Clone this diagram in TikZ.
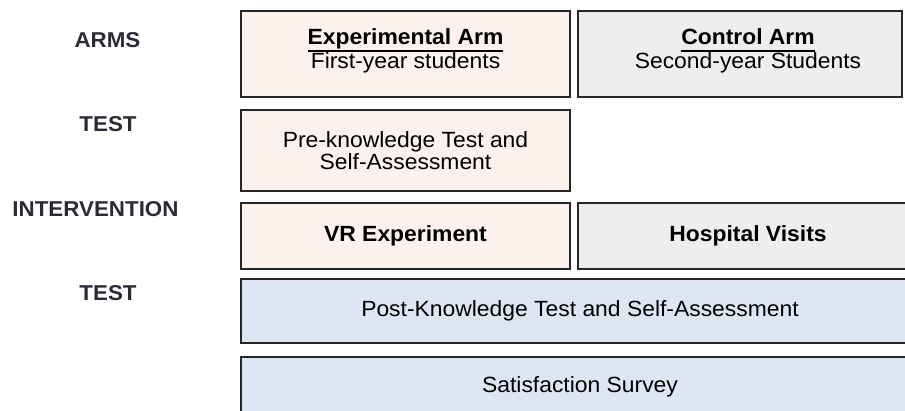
\documentclass[tikz,border=0pt]{standalone}
\usepackage{fontspec}
\setmainfont{Liberation Sans}[FakeStretch=1.04]
\usetikzlibrary{calc}

\definecolor{exparm}{HTML}{FCF1EC}
\definecolor{ctrlarm}{HTML}{EEEEEE}
\definecolor{common}{HTML}{DCE7F3}
\definecolor{rowlabel}{HTML}{2B2B36}
\definecolor{frame}{HTML}{262626}

% heavy underline drawn as a rule below the baseline
\newsavebox{\ulinebox}
\newcommand{\armtitle}[1]{%
  \sbox{\ulinebox}{\bfseries #1}%
  \leavevmode\rlap{\rule[-7.5pt]{\wd\ulinebox}{1.8pt}}\usebox{\ulinebox}}

\tikzset{
  every node/.style={font=\fontsize{22}{22.5}\selectfont},
  box/.style={draw=frame, line width=1.3pt, inner sep=0pt, align=center, text=black},
  rowname/.style={text=rowlabel, font=\fontsize{21.5}{22.5}\selectfont\bfseries},
}

\begin{document}
\begin{tikzpicture}[x=1pt, y=-1pt]
  \useasboundingbox (0,0) rectangle (905,411);

  % row names
  \node[rowname] (lArms)  at (107.5,40.5)  {ARMS};
  \node[rowname] (lTest1) at (108,124.5)   {TEST};
  \node[rowname] (lInt)   at (95.5,209.5)  {INTERVENTION};
  \node[rowname] (lTest2) at (108,293.5)   {TEST};

  % arms
  \node[box, fill=exparm, minimum width=329pt, minimum height=86pt] (exp) at (405.5,54) {};
  \node[align=center] (expText) at ($(exp.center)+(0,-3)$)
    {\armtitle{Experimental Arm}\\First-year students};
  \node[box, fill=ctrlarm, minimum width=324pt, minimum height=86pt] (ctrl) at (740,54) {};
  \node[align=center] (ctrlText) at ($(ctrl.center)+(8,-3)$)
    {\armtitle{Control Arm}\\Second-year Students};

  % pre-test
  \node[box, fill=exparm, minimum width=329pt, minimum height=81pt] (pre) at (405.5,150.5)
    {Pre-knowledge Test and\\Self-Assessment};

  % intervention
  \node[box, fill=exparm, minimum width=329pt, minimum height=66pt, font=\fontsize{22}{22.5}\selectfont\bfseries] (vr) at (405.5,236) {VR Experiment};
  \node[box, fill=ctrlarm, minimum width=340pt, minimum height=66pt, font=\fontsize{22}{22.5}\selectfont\bfseries] (hosp) at (748,236) {Hospital Visits};

  % post-test and survey
  \node[box, fill=common, minimum width=678pt, minimum height=64pt] (post) at (580,311)
    {Post-Knowledge Test and Self-Assessment};
  \node[box, fill=common, minimum width=678pt, minimum height=59pt] (survey) at (580,386.5)
    {Satisfaction Survey};
\end{tikzpicture}
\end{document}
